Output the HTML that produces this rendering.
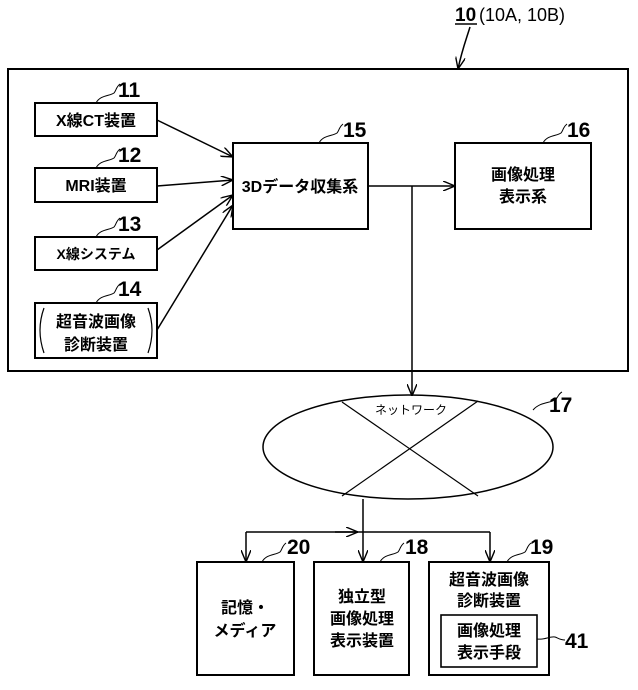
<!DOCTYPE html>
<html><head><meta charset="utf-8"><style>
html,body{margin:0;padding:0;background:#fff;}
svg{display:block;}
text{font-family:"Liberation Sans","Noto Sans CJK JP",sans-serif;fill:#000;}
</style></head><body>
<svg width="638" height="690" viewBox="0 0 638 690" xmlns="http://www.w3.org/2000/svg">
<defs>
<marker id="a" viewBox="0 0 12 10" refX="12" refY="5" markerWidth="12" markerHeight="10" markerUnits="userSpaceOnUse" orient="auto">
<path d="M0,0 L12,5 L0,10" fill="none" stroke="#000" stroke-width="1.4"/>
</marker>
</defs>
<g fill="none" stroke="#000" stroke-width="2">
<rect x="8" y="69" width="620" height="302"/>
<rect x="35" y="103" width="122" height="33"/>
<rect x="35" y="168" width="122" height="34"/>
<rect x="35" y="237" width="122" height="33"/>
<rect x="35" y="303" width="122" height="55"/>
<rect x="233" y="143" width="135" height="86"/>
<rect x="455" y="143" width="136" height="86"/>
<rect x="197" y="562" width="97" height="113"/>
<rect x="314" y="562" width="95" height="113"/>
<rect x="429" y="562" width="120" height="113"/>
<rect x="441" y="615" width="96" height="52" stroke-width="1.6"/>
</g>
<g fill="none" stroke="#000" stroke-width="1.5">
<line x1="157" y1="120" x2="233" y2="157" marker-end="url(#a)"/>
<line x1="157" y1="186" x2="233" y2="180" marker-end="url(#a)"/>
<line x1="157" y1="250" x2="233" y2="195" marker-end="url(#a)"/>
<line x1="157" y1="330" x2="233" y2="205" marker-end="url(#a)"/>
<line x1="368" y1="186" x2="455" y2="186" marker-end="url(#a)"/>
<line x1="412" y1="186" x2="412" y2="396" marker-end="url(#a)"/>
<ellipse cx="408" cy="447" rx="145" ry="52"/>
<line x1="342" y1="402" x2="478" y2="496" stroke-width="1.2"/>
<line x1="478" y1="401" x2="342" y2="496" stroke-width="1.2"/>
<line x1="363" y1="499" x2="363" y2="562" marker-end="url(#a)"/>
<line x1="246" y1="532" x2="490" y2="532"/>
<line x1="335" y1="532" x2="358" y2="532" marker-end="url(#a)"/>
<line x1="246" y1="532" x2="246" y2="562" marker-end="url(#a)"/>
<line x1="490" y1="532" x2="490" y2="562" marker-end="url(#a)"/>
<path d="M470,27 C466,40 462,50 458,69" marker-end="url(#a)"/>
<path d="M96,103 C100,95 110,96 114,93 C116,91 116,87 120,84" stroke-width="1"/>
<path d="M96,168 C100,160 110,161 114,158 C116,156 116,152 120,149" stroke-width="1"/>
<path d="M96,237 C100,229 110,230 114,227 C116,225 116,221 120,218" stroke-width="1"/>
<path d="M96,303 C100,295 110,296 114,293 C116,291 116,287 120,284" stroke-width="1"/>
<path d="M319,143 C323,135 333,136 337,133 C339,131 339,127 343,124" stroke-width="1"/>
<path d="M543,143 C547,135 557,136 561,133 C563,131 563,127 567,124" stroke-width="1"/>
<path d="M533,410 C540,402 550,403 555,400 C558,398 558,394 562,392" stroke-width="1"/>
<path d="M262,562 C266,554 276,555 280,552 C282,550 282,546 286,543" stroke-width="1"/>
<path d="M380,562 C384,554 394,555 398,552 C400,550 400,546 404,543" stroke-width="1"/>
<path d="M507,562 C511,554 521,555 525,552 C527,550 527,546 531,543" stroke-width="1"/>
<path d="M537,639 C545,640 550,636 555,637 C558,638 560,640 565,640" stroke-width="1"/>
<path d="M44,308 Q36,330 44,353" stroke-width="1.2"/>
<path d="M148,308 Q156,330 148,353" stroke-width="1.2"/>
</g>
<line x1="455" y1="24" x2="477" y2="24" stroke="#000" stroke-width="1.5"/>
<text x="455" y="21" font-size="19" font-weight="bold">10</text>
<text x="479" y="21" font-size="18">(10A, 10B)</text>
<g font-size="21" font-weight="bold">
<text x="118" y="97">11</text>
<text x="118" y="162">12</text>
<text x="118" y="231">13</text>
<text x="118" y="296">14</text>
<text x="343" y="137">15</text>
<text x="567" y="137">16</text>
<text x="549" y="412">17</text>
<text x="405" y="554">18</text>
<text x="530" y="554">19</text>
<text x="287" y="554">20</text>
<text x="565" y="648">41</text>
</g>
<g font-size="16" font-weight="bold" text-anchor="middle">
<text x="96" y="126">X線CT装置</text>
<text x="96" y="191">MRI装置</text>
<text x="96" y="259" font-size="14">X線システム</text>
<text x="96" y="327">超音波画像</text>
<text x="96" y="350">診断装置</text>
<text x="300" y="192">3Dデータ収集系</text>
<text x="523" y="180">画像処理</text>
<text x="523" y="202">表示系</text>
<text x="411" y="414" font-size="12" font-weight="normal">ネットワーク</text>
<text x="245" y="613">記憶・</text>
<text x="245" y="636">メディア</text>
<text x="362" y="602">独立型</text>
<text x="362" y="624">画像処理</text>
<text x="362" y="646">表示装置</text>
<text x="489" y="585">超音波画像</text>
<text x="489" y="606">診断装置</text>
<text x="489" y="636">画像処理</text>
<text x="489" y="658">表示手段</text>
</g>
</svg>
</body></html>
